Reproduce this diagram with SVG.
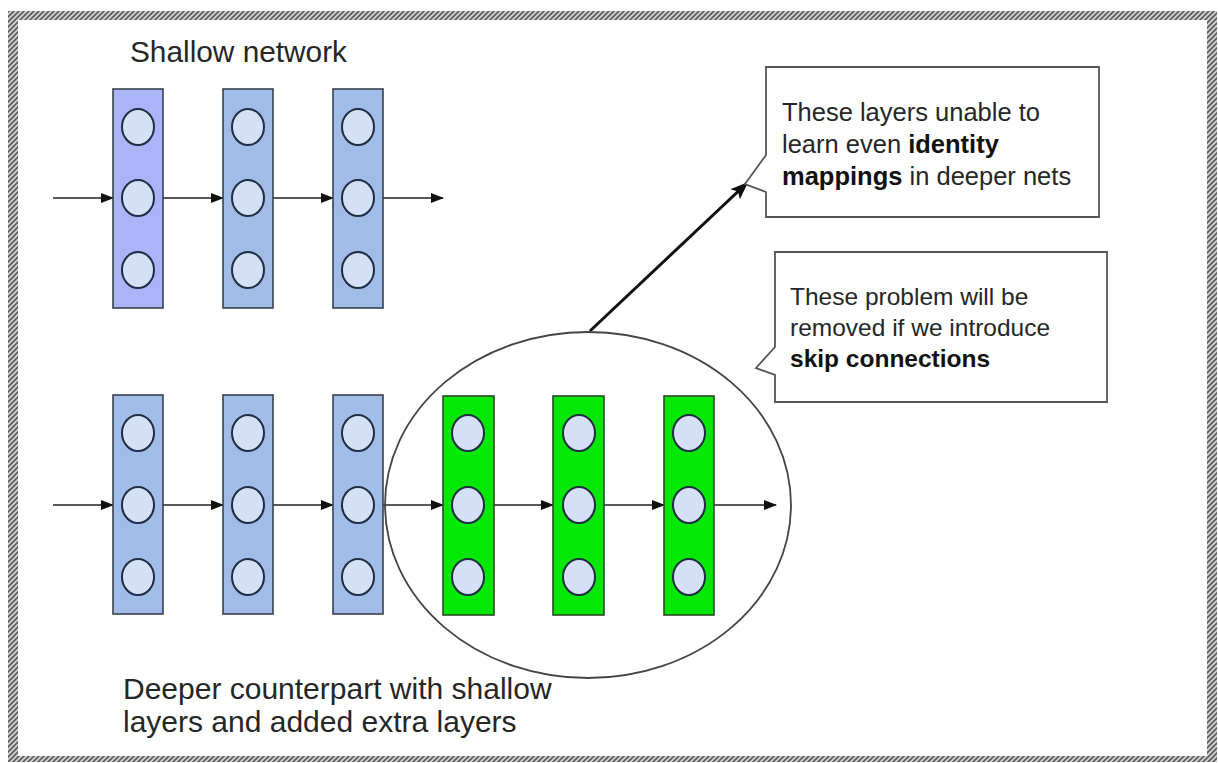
<svg xmlns="http://www.w3.org/2000/svg" width="1218" height="763" viewBox="0 0 1218 763">
  <defs>
    <pattern id="hatch" patternUnits="userSpaceOnUse" width="5" height="5">
      <rect width="5" height="5" fill="#d4d4d4"/>
      <path d="M-1,6 L6,-1 M-1,1 L1,-1 M4,6 L6,4" stroke="#5e5e5e" stroke-width="1.8"/>
    </pattern>
    <marker id="arr" markerUnits="userSpaceOnUse" markerWidth="13" markerHeight="10" refX="12" refY="5" orient="auto">
      <path d="M0,0 L13,5 L0,10 Z" fill="#111"/>
    </marker>
    <marker id="arrBig" markerUnits="userSpaceOnUse" markerWidth="18" markerHeight="14" refX="15" refY="7" orient="auto">
      <path d="M0,0 L18,7 L0,14 L4,7 Z" fill="#111"/>
    </marker>
    <style>
      .lay { stroke: #3a4050; stroke-width: 1.6; }
      .blue1 { fill: #aab4f7; }
      .blue { fill: #a1bce6; }
      .green { fill: #05e805; stroke: #2a4a2a; stroke-width: 1.6; }
      .neuron { fill: #d3e0f5; stroke: #1f2d45; stroke-width: 2; }
      .flow { stroke: #222; stroke-width: 1.6; fill: none; marker-end: url(#arr); }
      .t { font-family: "Liberation Sans", Arial, sans-serif; fill: #262626; }
      .callout { fill: #fff; stroke: #555; stroke-width: 1.8; }
      .b { font-weight: bold; fill: #111; }
    </style>
  </defs>

  <rect x="0" y="0" width="1218" height="763" fill="#ffffff"/>
  <path d="M8,11 H1217 V762 H8 Z M18,20 V756 H1207 V20 Z" fill="url(#hatch)" fill-rule="evenodd"/>

  <text class="t" x="130" y="62" font-size="29.8">Shallow network</text>

  <g id="connectors">
    <line class="flow" x1="53" y1="198" x2="113" y2="198"/>
    <line class="flow" x1="163" y1="198" x2="223" y2="198"/>
    <line class="flow" x1="273" y1="198" x2="333" y2="198"/>
    <line class="flow" x1="383" y1="198" x2="443" y2="198"/>

    <line class="flow" x1="53" y1="505" x2="113" y2="505"/>
    <line class="flow" x1="163" y1="505" x2="223" y2="505"/>
    <line class="flow" x1="273" y1="505" x2="333" y2="505"/>
    <line class="flow" x1="383" y1="505" x2="443" y2="505"/>
    <line class="flow" x1="494" y1="505" x2="553" y2="505"/>
    <line class="flow" x1="604" y1="505" x2="664" y2="505"/>
    <line class="flow" x1="714" y1="505" x2="776" y2="505"/>

    <line x1="590" y1="331" x2="746" y2="184" stroke="#111" stroke-width="3" marker-end="url(#arrBig)"/>
  </g>

  <g id="shallow-1">
    <rect class="lay blue1" x="113" y="89" width="50" height="219"/>
    <ellipse class="neuron" cx="138" cy="127" rx="16" ry="18"/>
    <ellipse class="neuron" cx="138" cy="198" rx="16" ry="18"/>
    <ellipse class="neuron" cx="138" cy="270" rx="16" ry="18"/>
  </g>
  <g id="shallow-2">
    <rect class="lay blue" x="223" y="89" width="50" height="219"/>
    <ellipse class="neuron" cx="248" cy="127" rx="16" ry="18"/>
    <ellipse class="neuron" cx="248" cy="198" rx="16" ry="18"/>
    <ellipse class="neuron" cx="248" cy="270" rx="16" ry="18"/>
  </g>
  <g id="shallow-3">
    <rect class="lay blue" x="333" y="89" width="50" height="219"/>
    <ellipse class="neuron" cx="358" cy="127" rx="16" ry="18"/>
    <ellipse class="neuron" cx="358" cy="198" rx="16" ry="18"/>
    <ellipse class="neuron" cx="358" cy="270" rx="16" ry="18"/>
  </g>

  <g id="extra-region">
    <ellipse cx="588" cy="505" rx="203" ry="173" fill="none" stroke="#444" stroke-width="1.8"/>
  </g>

  <g id="deep-1">
    <rect class="lay blue" x="113" y="395" width="50" height="219"/>
    <ellipse class="neuron" cx="138" cy="433" rx="16" ry="18"/>
    <ellipse class="neuron" cx="138" cy="505" rx="16" ry="18"/>
    <ellipse class="neuron" cx="138" cy="577" rx="16" ry="18"/>
  </g>
  <g id="deep-2">
    <rect class="lay blue" x="223" y="395" width="50" height="219"/>
    <ellipse class="neuron" cx="248" cy="433" rx="16" ry="18"/>
    <ellipse class="neuron" cx="248" cy="505" rx="16" ry="18"/>
    <ellipse class="neuron" cx="248" cy="577" rx="16" ry="18"/>
  </g>
  <g id="deep-3">
    <rect class="lay blue" x="333" y="395" width="50" height="219"/>
    <ellipse class="neuron" cx="358" cy="433" rx="16" ry="18"/>
    <ellipse class="neuron" cx="358" cy="505" rx="16" ry="18"/>
    <ellipse class="neuron" cx="358" cy="577" rx="16" ry="18"/>
  </g>
  <g id="extra-1">
    <rect class="green" x="443" y="396" width="51" height="219"/>
    <ellipse class="neuron" cx="468" cy="433" rx="16" ry="18"/>
    <ellipse class="neuron" cx="468" cy="505" rx="16" ry="18"/>
    <ellipse class="neuron" cx="468" cy="577" rx="16" ry="18"/>
  </g>
  <g id="extra-2">
    <rect class="green" x="553" y="396" width="51" height="219"/>
    <ellipse class="neuron" cx="579" cy="433" rx="16" ry="18"/>
    <ellipse class="neuron" cx="579" cy="505" rx="16" ry="18"/>
    <ellipse class="neuron" cx="579" cy="577" rx="16" ry="18"/>
  </g>
  <g id="extra-3">
    <rect class="green" x="664" y="396" width="50" height="219"/>
    <ellipse class="neuron" cx="689" cy="433" rx="16" ry="18"/>
    <ellipse class="neuron" cx="689" cy="505" rx="16" ry="18"/>
    <ellipse class="neuron" cx="689" cy="577" rx="16" ry="18"/>
  </g>

  <g id="callout-identity">
    <path class="callout" d="M766,67 H1099 V217 H766 V192 L745,184 L766,155 Z"/>
    <text class="t" font-size="25.5" x="782" y="121">These layers unable to</text>
    <text class="t" font-size="25.5" x="782" y="153">learn even <tspan class="b">identity</tspan></text>
    <text class="t" font-size="25.5" x="782" y="185"><tspan class="b">mappings</tspan> in deeper nets</text>
  </g>

  <g id="callout-skip">
    <path class="callout" d="M775,252 H1107 V402 H775 V375 L756,368 L775,347 Z"/>
    <text class="t" font-size="24.5" x="790" y="305">These problem will be</text>
    <text class="t" font-size="24.5" x="790" y="336">removed if we introduce</text>
    <text class="t" font-size="24.5" x="790" y="367"><tspan class="b">skip connections</tspan></text>
  </g>

  <g id="caption">
    <text class="t" font-size="30" x="123" y="699">Deeper counterpart with shallow</text>
    <text class="t" font-size="30" x="123" y="732">layers and added extra layers</text>
  </g>
</svg>
